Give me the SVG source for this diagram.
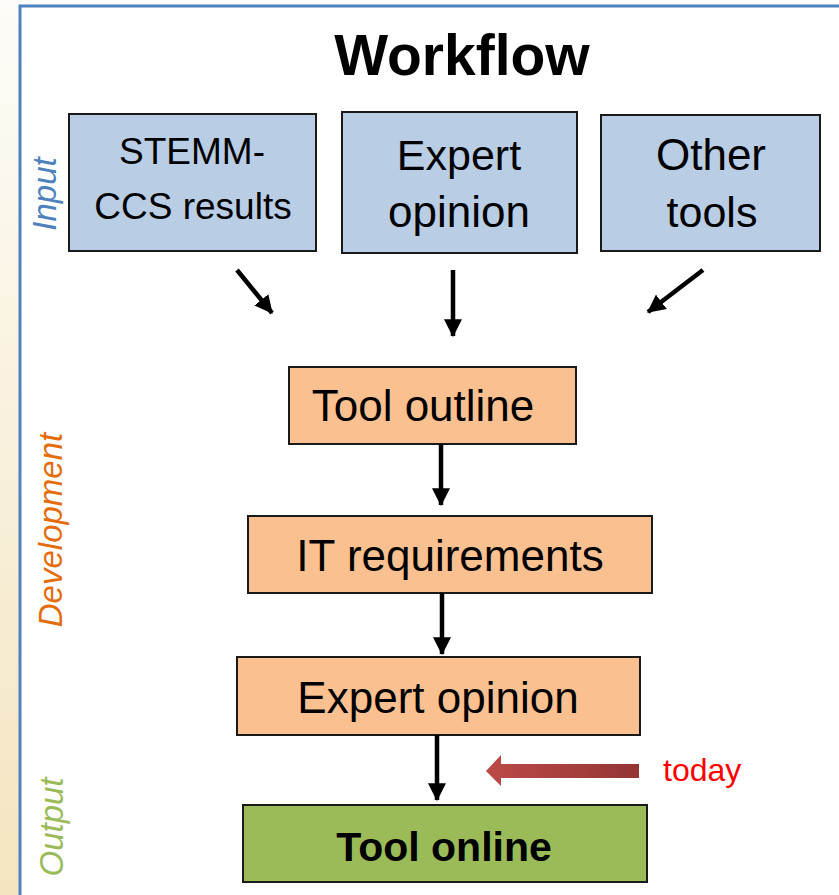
<svg xmlns="http://www.w3.org/2000/svg" width="839" height="895" viewBox="0 0 839 895">
  <defs>
    <linearGradient id="strip" x1="0" y1="0" x2="0" y2="1">
      <stop offset="0" stop-color="#fdfcf8"/>
      <stop offset="1" stop-color="#f4e5c0"/>
    </linearGradient>
    <linearGradient id="todayFill" x1="0" y1="0" x2="1" y2="0">
      <stop offset="0" stop-color="#bb4a48"/>
      <stop offset="1" stop-color="#943634"/>
    </linearGradient>
    <marker id="head" markerUnits="userSpaceOnUse" markerWidth="18" markerHeight="18" viewBox="0 0 16 16" refX="15" refY="8" orient="auto">
      <path d="M0,0 L16,8 L0,16 Z" fill="#000"/>
    </marker>
    <style>
      .box { stroke: #1a1a1a; stroke-width: 2; }
      .input { fill: #b9cde5; }
      .dev { fill: #fac090; }
      .out { fill: #9bbb59; }
      .t { font-family: "Liberation Sans", Arial, sans-serif; fill: #000; text-anchor: middle; }
      .phase { font-family: "Liberation Sans", Arial, sans-serif; font-style: italic; font-size: 33px; text-anchor: middle; }
      .conn { stroke: #000; stroke-width: 4.5; fill: none; marker-end: url(#head); }
    </style>
  </defs>

  <!-- page background and frame -->
  <rect x="0" y="0" width="839" height="895" fill="#fff"/>
  <rect x="0" y="0" width="19" height="895" fill="url(#strip)"/>
  <path d="M20,895 L20,6 L839,6" fill="none" stroke="#4f81bd" stroke-width="3"/>

  <!-- title -->
  <text x="462" y="75" class="t" font-size="57" font-weight="bold">Workflow</text>

  <!-- phase labels -->
  <text class="phase" fill="#4f81bd" transform="translate(56,194) rotate(-90)">Input</text>
  <text class="phase" fill="#e46c0a" transform="translate(62,530) rotate(-90)">Development</text>
  <text class="phase" fill="#9bbb59" transform="translate(63,827) rotate(-90)">Output</text>

  <!-- input nodes -->
  <g id="stemm">
    <rect class="box input" x="69" y="114" width="247" height="137"/>
    <text class="t" x="192" y="164" font-size="37">STEMM-</text>
    <text class="t" x="193" y="219" font-size="37">CCS results</text>
  </g>
  <g id="expert-input">
    <rect class="box input" x="342" y="112" width="235" height="141"/>
    <text class="t" x="459" y="170" font-size="43">Expert</text>
    <text class="t" x="459" y="227" font-size="44">opinion</text>
  </g>
  <g id="other-tools">
    <rect class="box input" x="601" y="115" width="219" height="136"/>
    <text class="t" x="711" y="170" font-size="44">Other</text>
    <text class="t" x="712" y="227" font-size="43">tools</text>
  </g>

  <!-- development nodes -->
  <g id="tool-outline">
    <rect class="box dev" x="289" y="367" width="287" height="77"/>
    <text class="t" x="423" y="421" font-size="44">Tool outline</text>
  </g>
  <g id="it-requirements">
    <rect class="box dev" x="248" y="516" width="404" height="77"/>
    <text class="t" x="450" y="571" font-size="44">IT requirements</text>
  </g>
  <g id="expert-review">
    <rect class="box dev" x="237" y="657" width="403" height="78"/>
    <text class="t" x="438" y="713" font-size="44">Expert opinion</text>
  </g>

  <!-- output node -->
  <g id="tool-online">
    <rect class="box out" x="243" y="805" width="404" height="77"/>
    <text class="t" x="444" y="861" font-size="41" font-weight="bold">Tool online</text>
  </g>

  <!-- connectors -->
  <g id="connectors">
    <line class="conn" x1="237" y1="270" x2="272" y2="313"/>
    <line class="conn" x1="453" y1="270" x2="453" y2="336"/>
    <line class="conn" x1="703" y1="270" x2="648" y2="312"/>
    <line class="conn" x1="441" y1="444" x2="441" y2="505"/>
    <line class="conn" x1="442" y1="593" x2="442" y2="654"/>
    <line class="conn" x1="437" y1="735" x2="437" y2="800"/>
  </g>

  <!-- current position marker -->
  <g id="today">
    <polygon points="486,771 501,755 501,764 639,764 639,778 501,778 501,786" fill="url(#todayFill)"/>
    <text x="663" y="781" font-family="'Liberation Sans', Arial, sans-serif" font-size="32" fill="#ff0000">today</text>
  </g>
</svg>
